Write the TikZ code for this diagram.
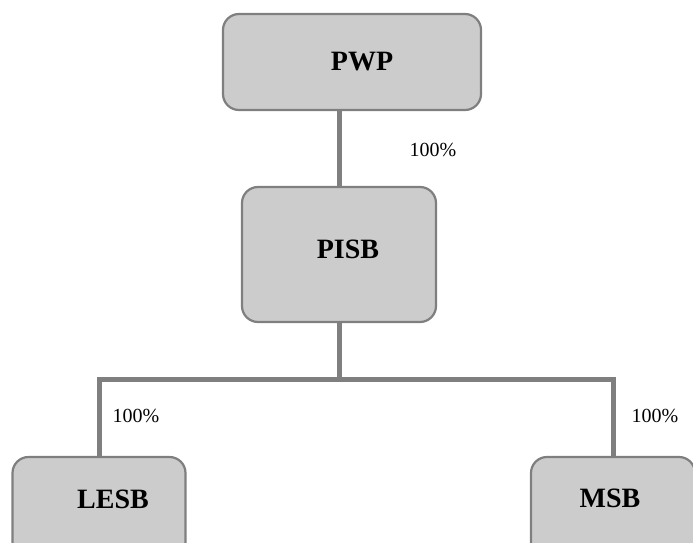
\documentclass[tikz,border=0pt]{standalone}
\usepackage{fontspec}
\setmainfont{Liberation Serif}
\definecolor{boxfill}{HTML}{CCCCCC}
\definecolor{boxline}{HTML}{7F7F7F}
\begin{document}
\begin{tikzpicture}[x=1pt,y=-1pt,
  entity/.style={draw=boxline,line width=2.2pt,fill=boxfill,rounded corners=16pt,inner sep=0pt},
  conn/.style={draw=boxline,line width=5pt,line join=miter},
  boxtext/.style={font=\fontsize{28}{33}\selectfont\bfseries,inner sep=0pt},
  pct/.style={font=\fontsize{20}{24}\selectfont,inner sep=0pt}]
\useasboundingbox (0,0) rectangle (693,543);
\clip (0,0) rectangle (693,543);
\node[entity,minimum width=258pt,minimum height=96pt] (pwp) at (352,62) {};
\node[entity,minimum width=194pt,minimum height=135pt] (pisb) at (339,254.5) {};
\node[entity,minimum width=173pt,minimum height=103pt] (lesb) at (99,508.5) {};
\node[entity,minimum width=164pt,minimum height=103pt] (msb) at (613,508.5) {};
\coordinate (bus) at (339,379);
\draw[conn] (pwp.south -| pisb.north) -- (pisb.north);
\draw[conn] (pisb.south) -- (bus);
\draw[conn] (lesb.north) |- (bus) -| (msb.north);
\node[boxtext] (tpwp) at (362,62) {PWP};
\node[boxtext] (tpisb) at (348,249) {PISB};
\node[boxtext] (tlesb) at (113,499) {LESB};
\node[boxtext] (tmsb) at (610,498) {MSB};
\node[pct] (p1) at (433,150) {100\%};
\node[pct] (p2) at (136,416) {100\%};
\node[pct] (p3) at (655,416) {100\%};
\end{tikzpicture}
\end{document}
